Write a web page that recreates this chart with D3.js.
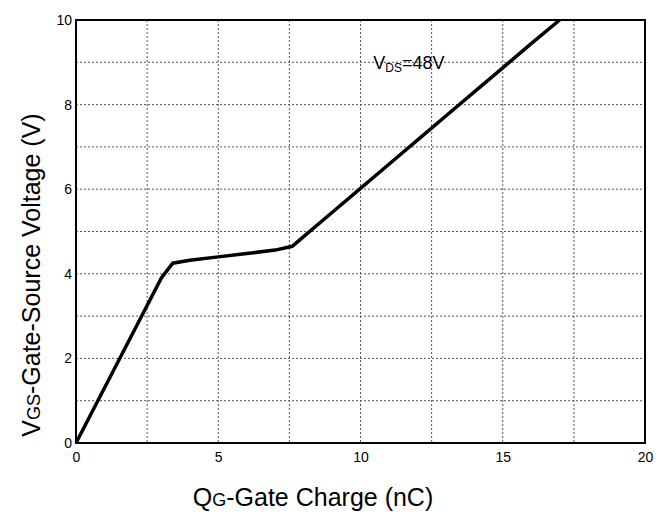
<!DOCTYPE html>
<html>
<head>
<meta charset="utf-8">
<script src="https://cdn.jsdelivr.net/npm/d3@7"></script>
<style>
  html, body { margin: 0; padding: 0; background: #fff; overflow: hidden; }
  svg { display: block; }
  text { font-family: "Liberation Sans", Arial, sans-serif; }
</style>
</head>
<body>
<div id="chart-area"></div>
<script>
// gate charge curve
var charge = [0, 1, 2, 3, 3.4, 4, 5, 6, 7, 7.6, 8, 9, 10, 11, 12, 13, 14, 15, 16, 17];
var voltage = [0, 1.3, 2.6, 3.9, 4.25, 4.32, 4.4, 4.48, 4.56, 4.65, 4.88, 5.45, 6.02, 6.59, 7.16, 7.73, 8.3, 8.87, 9.44, 10.0];
var xTicks = [0, 5, 10, 15, 20];
var yTicks = [0, 2, 4, 6, 8, 10];
var xGrid = [2.5, 5, 7.5, 10, 12.5, 15, 17.5];
var yGrid = [1, 2, 3, 4, 5, 6, 7, 8, 9];

var width = 664;
var height = 515;
var margin = {top: 20, right: 19, bottom: 72, left: 76};
var innerWidth = width - margin.left - margin.right;
var innerHeight = height - margin.top - margin.bottom;

const svg = d3.select("#chart-area")
  .append("svg")
    .attr("width", width)
    .attr("height", height);

const g = svg.append("g")
  .attr("transform", "translate(" + margin.left + ", " + margin.top + ")");

//Scales
var x = d3.scaleLinear()
  .domain([0, 20])
  .range([0, innerWidth]);

var y = d3.scaleLinear()
  .domain([0, 10])
  .range([innerHeight, 0]);

//Grid
g.selectAll(".vgrid")
  .data(xGrid)
  .enter().append("line")
    .attr("x1", d => x(d))
    .attr("x2", d => x(d))
    .attr("y1", 0)
    .attr("y2", innerHeight)
    .attr("stroke", "#555")
    .attr("stroke-width", 1)
    .attr("stroke-dasharray", "2,2");

g.selectAll(".hgrid")
  .data(yGrid)
  .enter().append("line")
    .attr("x1", 0)
    .attr("x2", innerWidth)
    .attr("y1", d => y(d))
    .attr("y2", d => y(d))
    .attr("stroke", "#555")
    .attr("stroke-width", 1)
    .attr("stroke-dasharray", "2,2");

//Axes
var xAxisCall = d3.axisBottom(x).tickValues(xTicks).tickSize(0).tickPadding(9);
var yAxisCall = d3.axisLeft(y).tickValues(yTicks).tickSize(0).tickPadding(4);

var xAxisGroup = g.append("g")
  .attr("transform", "translate(0, " + innerHeight + ")")
  .call(xAxisCall);
var yAxisGroup = g.append("g")
  .call(yAxisCall);

[xAxisGroup, yAxisGroup].forEach(ax => {
  ax.select(".domain").remove();
  ax.selectAll("text")
    .style("font-size", "14px")
    .style("font-family", "Liberation Sans, Arial, sans-serif")
    .attr("fill", "#000");
});

//Frame
g.append("rect")
  .attr("width", innerWidth)
  .attr("height", innerHeight)
  .attr("fill", "none")
  .attr("stroke", "#000")
  .attr("stroke-width", 2);

//Curve
var line = d3.line()
  .x((d, i) => x(charge[i]))
  .y(d => y(d));

g.append("path")
  .datum(voltage)
  .attr("d", line)
  .attr("fill", "none")
  .attr("stroke", "#000")
  .attr("stroke-width", 3.5);

// label made of pieces, each its own text element, laid out left to right
function pieces(parent, parts, anchorMid) {
  const grp = parent.append("g");
  let cx = 0;
  parts.forEach(p => {
    const t = grp.append("text")
      .attr("x", cx)
      .attr("y", p.dy || 0)
      .style("font-size", p.size + "px")
      .attr("fill", "#000")
      .text(p.text);
    cx += t.node().getComputedTextLength();
  });
  if (anchorMid) grp.selectAll("text").attr("x", function() { return +d3.select(this).attr("x") - cx / 2; });
  return grp;
}

//Annotation
pieces(g, [
  {text: "V", size: 18},
  {text: "DS", size: 12, dy: 3},
  {text: "=48V", size: 18}
]).attr("transform", "translate(" + x(10.45) + ", " + y(8.85) + ")");

//Labels
pieces(svg, [
  {text: "Q", size: 25},
  {text: "G", size: 18},
  {text: "-Gate Charge (nC)", size: 25}
], true).attr("transform", "translate(313, 506)");

pieces(svg, [
  {text: "V", size: 25},
  {text: "GS", size: 18},
  {text: "-Gate-Source Voltage (V)", size: 25}
], true).attr("transform", "translate(40, 275) rotate(-90)");
</script>
</body>
</html>
